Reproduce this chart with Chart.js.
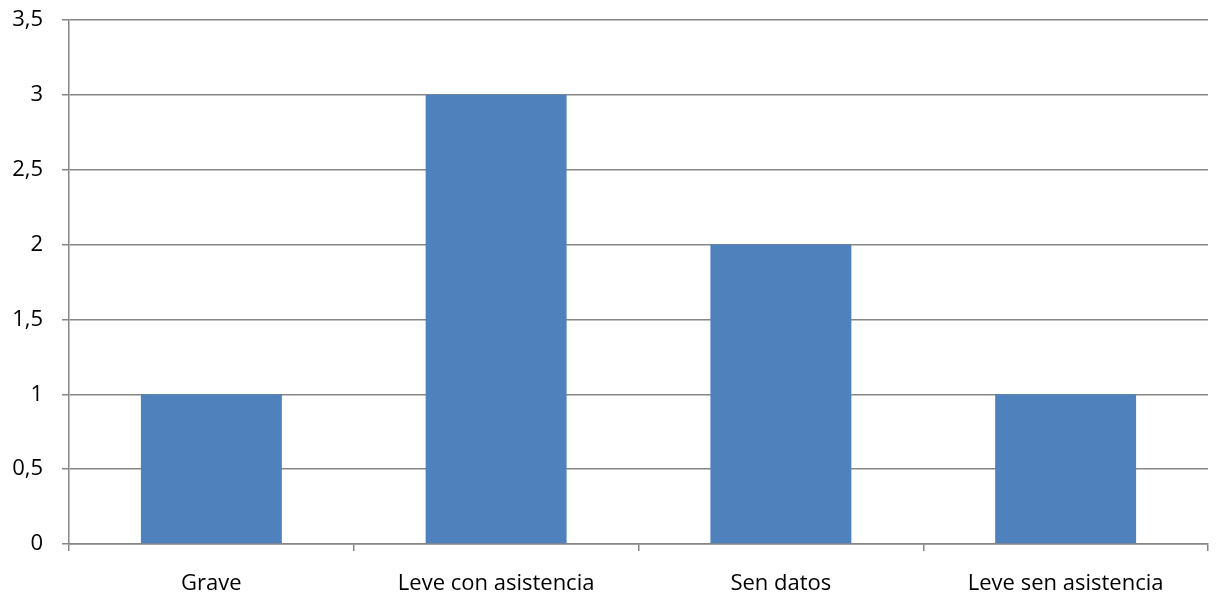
<!DOCTYPE html>
<html>
<head>
<meta charset="utf-8">
<script src="https://cdn.jsdelivr.net/npm/chart.js@4"></script>
<style>
  html, body { margin: 0; padding: 0; background: #fff; }
  #wrap { width: 1216px; height: 597px; position: relative; }
</style>
</head>
<body>
<div id="wrap"><canvas id="chart"></canvas></div>
<script>
// Injury severity counts
const categories = ['Grave', 'Leve con asistencia', 'Sen datos', 'Leve sen asistencia'];
const counts = [1, 3, 2, 1];
const yMax = 3.5;
const yStep = 0.5;

const axisGrey = '#868686';
const labelFont = { family: "'Open Sans', sans-serif", size: 22 };

const ctx = document.getElementById('chart').getContext('2d');
new Chart(ctx, {
  type: 'bar',
  data: {
    labels: categories,
    datasets: [{
      data: counts,
      backgroundColor: '#4F81BD',
      borderWidth: 0,
      categoryPercentage: 1,
      barPercentage: 0.495
    }]
  },
  options: {
    responsive: true,
    maintainAspectRatio: false,
    animation: false,
    layout: { padding: { top: 20, right: 8, left: 0, bottom: 0 } },
    plugins: { legend: { display: false }, tooltip: { enabled: false } },
    scales: {
      x: {
        offset: true,
        grid: {
          offset: true,
          drawOnChartArea: false,
          color: axisGrey,
          tickLength: 7,
          lineWidth: 1.5
        },
        border: { color: axisGrey, width: 1.5 },
        ticks: { color: '#000', font: labelFont, padding: 20, maxRotation: 0 },
        afterFit: (scale) => { scale.height = 53; }
      },
      y: {
        min: 0,
        max: yMax,
        grid: { color: axisGrey, tickLength: 7, lineWidth: 1.5 },
        border: { color: axisGrey, width: 1.5 },
        ticks: {
          stepSize: yStep,
          color: '#000',
          font: labelFont,
          padding: 19,
          callback: (v) => String(v).replace('.', ',')
        },
        afterFit: (scale) => {
          scale.width = 69;
          scale.paddingTop = 0;
          scale.paddingBottom = 0;
        }
      }
    }
  }
});
</script>
</body>
</html>
